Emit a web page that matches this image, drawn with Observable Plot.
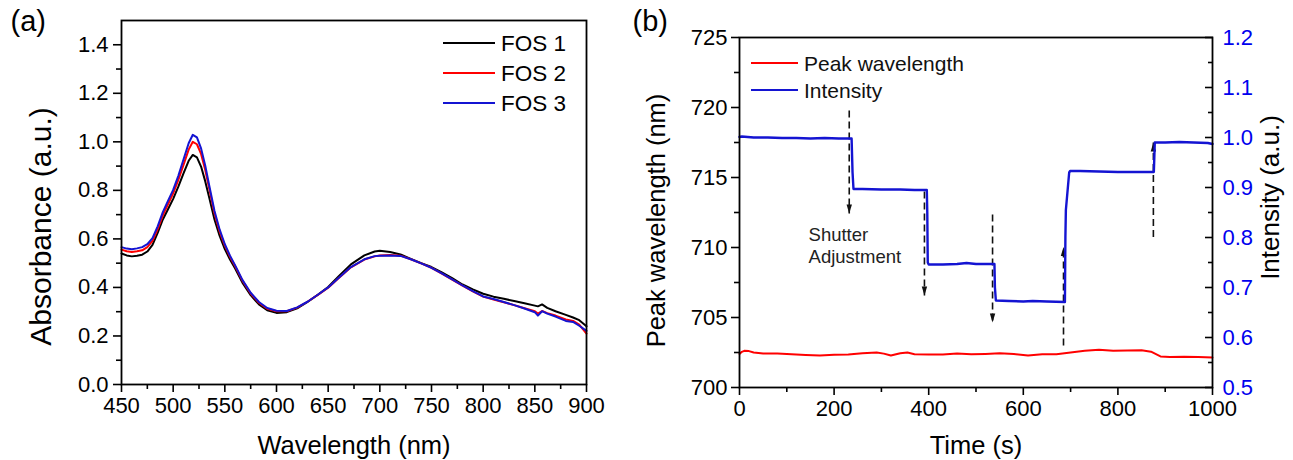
<!DOCTYPE html>
<html><head><meta charset="utf-8">
<script src="https://cdn.jsdelivr.net/npm/d3@7"></script>
<script src="https://cdn.jsdelivr.net/npm/@observablehq/plot@0.6"></script>
<style>
body{margin:0;background:#fff;}
#wrap{display:flex;width:1293px;height:460px;overflow:hidden;}
#wrap svg{font-family:"Liberation Sans",Arial,sans-serif;}
</style></head><body><div id="wrap"></div>
<script>
// ---------- Panel (a) data ----------
const wavelengthNm = [450,455,460,465,470,475,480,485,490,495,500,505,510,515,519,523,527,531,535,540,545,550,555,560,567,575,583,591,600,610,620,630,640,650,660,672,685,695,700,710,720,730,740,750,760,770,780,790,800,810,820,830,840,850,853,857,862,870,880,887,893,900];
const fos1Abs = [.540,.532,.528,.531,.535,.548,.575,.625,.680,.722,.765,.815,.870,.922,.946,.936,.898,.838,.768,.680,.612,.558,.515,.478,.420,.368,.330,.306,.295,.298,.314,.340,.370,.402,.445,.495,.532,.548,.551,.546,.536,.518,.500,.484,.462,.438,.412,.392,.374,.362,.353,.344,.335,.325,.322,.330,.316,.302,.287,.276,.265,.240];
const fos2Abs = [.556,.549,.546,.549,.553,.566,.592,.640,.697,.742,.788,.843,.905,.968,1.000,.990,.950,.885,.805,.705,.630,.572,.526,.487,.428,.375,.337,.312,.302,.302,.317,.341,.369,.399,.438,.483,.515,.528,.532,.534,.531,.516,.499,.481,.457,.432,.407,.384,.362,.350,.339,.327,.314,.302,.292,.303,.294,.284,.268,.262,.247,.210];
const fos3Abs = [.566,.560,.557,.561,.566,.578,.603,.652,.710,.757,.802,.860,.927,.994,1.029,1.018,.973,.903,.818,.715,.638,.578,.531,.491,.431,.378,.340,.315,.304,.303,.318,.341,.370,.400,.439,.484,.516,.529,.531,.532,.530,.516,.499,.481,.458,.433,.408,.385,.363,.352,.340,.327,.313,.298,.284,.302,.292,.280,.262,.258,.242,.221];
const seriesNames = ["FOS 1","FOS 2","FOS 3"];
const seriesColors = ["#000000","#ff0000","#1414d2"];
const absXTicks = [450,500,550,600,650,700,750,800,850,900];
const absXMinor = [475,525,575,625,675,725,775,825,875];
const absYTicks = [0,0.2,0.4,0.6,0.8,1.0,1.2,1.4];
const absYMinor = [0.1,0.3,0.5,0.7,0.9,1.1,1.3];

// ---------- Panel (b) data ----------
const peakTimeS = [0,5,10,20,30,50,80,110,140,170,200,230,260,290,305,320,340,355,370,400,430,460,490,520,550,580,610,640,670,700,730,760,790,820,850,870,890,910,940,970,1000];
const peakWavelengthNm = [702.40,702.55,702.62,702.60,702.50,702.43,702.42,702.38,702.33,702.29,702.34,702.36,702.45,702.50,702.42,702.29,702.44,702.50,702.38,702.35,702.36,702.42,702.38,702.40,702.44,702.40,702.28,702.37,702.38,702.50,702.62,702.70,702.62,702.64,702.66,702.56,702.22,702.18,702.20,702.17,702.15];
const intTimeS = [0,5,30,60,90,120,150,180,210,237,239,241,260,300,340,370,396,397,398,400,430,460,480,500,539,540,542,570,600,620,650,688,689,690,697,699,720,760,800,840,876,877,878,900,930,960,990,1000];
const intensityAU = [1.001,1.002,1.000,1.000,0.999,0.999,0.998,0.999,0.998,0.998,0.93,0.897,0.897,0.896,0.896,0.895,0.895,0.85,0.75,0.746,0.746,0.747,0.749,0.747,0.747,0.70,0.674,0.673,0.672,0.673,0.672,0.671,0.80,0.855,0.930,0.933,0.933,0.932,0.931,0.931,0.931,0.96,0.990,0.990,0.991,0.990,0.989,0.987];
const shutterTimeS = [232,391,535,685,875];
const shutterFromAU = [1.054,0.892,0.846,0.584,0.801];
const shutterToAU = [0.848,0.684,0.630,0.781,0.990];
const shutterDirection = ["down","down","down","up","up"];
const noteText = ["Shutter\nAdjustment"];
const noteTimeS = [146];
const noteWavelengthNm = [711.57];
const timeTicks = [0,200,400,600,800,1000];
const timeMinor = [100,300,500,700,900];
const wlTicks = [700,705,710,715,720,725];
const wlMinor = [702.5,707.5,712.5,717.5,722.5];
const intTicks = [0.5,0.6,0.7,0.8,0.9,1.0,1.1,1.2];
const intMinor = [0.55,0.65,0.75,0.85,0.95,1.05,1.15];

// intensity (right axis) -> left-axis units
const intDomain = [0.5, 1.2], wlDomain = [700, 725];
const toWl = I => wlDomain[0] + (I - intDomain[0]) * (wlDomain[1]-wlDomain[0]) / (intDomain[1]-intDomain[0]);
const toInt = w => intDomain[0] + (w - wlDomain[0]) * (intDomain[1]-intDomain[0]) / (wlDomain[1]-wlDomain[0]);

const FONT = '"Liberation Sans",Arial,sans-serif';
const wrap = document.getElementById("wrap");

// ---------- Panel (a) ----------
const spectra = seriesNames.flatMap((s, k) => wavelengthNm.map((w, i) => ({w, a: [fos1Abs, fos2Abs, fos3Abs][k][i], s})));
const pa = Plot.plot({
  width: 630, height: 460,
  marginLeft: 121, marginRight: 44, marginTop: 20, marginBottom: 76,
  style: {fontFamily: FONT, background: "white", color: "#000", overflow: "visible"},
  x: {domain: [450, 900]},
  y: {domain: [0, 1.5]},
  color: {domain: seriesNames, range: seriesColors},
  marks: [
    Plot.line(spectra, {x: "w", y: "a", z: "s", stroke: "s", strokeWidth: 2}),
    Plot.frame({stroke: "#000", strokeWidth: 1.8}),
    Plot.axisX({ticks: absXTicks, tickSize: 8, tickPadding: 5, fontSize: 22, strokeWidth: 1.6, label: null, tickFormat: d3.format("d")}),
    Plot.axisX({ticks: absXMinor, tickSize: 5, tickFormat: () => "", strokeWidth: 1.6, label: null}),
    Plot.axisY({ticks: absYTicks, tickSize: 8, tickPadding: 5, fontSize: 22, strokeWidth: 1.6, label: null, tickFormat: d3.format(".1f")}),
    Plot.axisY({ticks: absYMinor, tickSize: 5, tickFormat: () => "", strokeWidth: 1.6, label: null}),
    Plot.text(["Wavelength (nm)"], {frameAnchor: "bottom", lineAnchor: "top", dy: 51, fontSize: 25.5, fill: "#000"}),
    Plot.text(["Absorbance (a.u.)"], {frameAnchor: "left", textAnchor: "middle", lineAnchor: "middle", rotate: -90, dx: -80, dy: 24, fontSize: 30, fill: "#000"}),
    Plot.text(["(a)"], {frameAnchor: "top-left", textAnchor: "start", lineAnchor: "top", dx: -111, dy: -10, fontSize: 29, fill: "#000"})
  ]
});
wrap.appendChild(pa);
{
  const g = d3.select(pa).append("g").attr("font-family", FONT).attr("font-size", 22.5).attr("text-anchor", "start");
  seriesNames.forEach((s, i) => {
    const y = 43 + 30 * i;
    g.append("line").attr("x1", 443).attr("x2", 495).attr("y1", y).attr("y2", y).attr("stroke", seriesColors[i]).attr("stroke-width", 2);
    g.append("text").attr("x", 501).attr("y", y + 8).attr("fill", "#000").text(s);
  });
}

// ---------- Panel (b) ----------
const peakRows = peakTimeS.map((t, i) => ({t, v: peakWavelengthNm[i]}));
const intRows = intTimeS.map((t, i) => ({t, v: toWl(intensityAU[i])}));
const arrows = shutterTimeS.map((t, i) => ({t, y1: toWl(shutterFromAU[i]), y2: toWl(shutterToAU[i]), dir: shutterDirection[i]}));
const arrowDown = {draw(ctx) { ctx.moveTo(0, 0); ctx.lineTo(-2.7, -9); ctx.lineTo(2.7, -9); ctx.closePath(); }};
const arrowUp = {draw(ctx) { ctx.moveTo(0, 0); ctx.lineTo(-2.7, 9); ctx.lineTo(2.7, 9); ctx.closePath(); }};
const notes = noteText.map((text, i) => ({text, t: noteTimeS[i], v: noteWavelengthNm[i]}));

const pb = Plot.plot({
  width: 663, height: 460,
  marginLeft: 109, marginRight: 81, marginTop: 37, marginBottom: 73,
  style: {fontFamily: FONT, background: "white", color: "#000", overflow: "visible"},
  x: {domain: [0, 1000]},
  y: {domain: wlDomain},
  marks: [
    Plot.link(arrows, {x1: "t", x2: "t", y1: "y1", y2: "y2", stroke: "#111", strokeWidth: 1.6, strokeDasharray: "7,4"}),
    Plot.dot(arrows.filter(d => d.dir === "down"), {x: "t", y: "y2", symbol: arrowDown, fill: "#111", stroke: "none"}),
    Plot.dot(arrows.filter(d => d.dir === "up"), {x: "t", y: "y2", symbol: arrowUp, fill: "#111", stroke: "none"}),
    Plot.line(peakRows, {x: "t", y: "v", stroke: "#ff0000", strokeWidth: 2}),
    Plot.line(intRows, {x: "t", y: "v", stroke: "#1414d2", strokeWidth: 2.4}),
    Plot.text(notes, {x: "t", y: "v", text: "text", textAnchor: "start", lineAnchor: "top", lineHeight: 1.2, fontSize: 18.5, fill: "#222"}),
    Plot.frame({stroke: "#000", strokeWidth: 1.8}),
    Plot.axisX({ticks: timeTicks, tickSize: 8, tickPadding: 5, fontSize: 22, strokeWidth: 1.6, label: null, tickFormat: d3.format("d")}),
    Plot.axisX({ticks: timeMinor, tickSize: 5, tickFormat: () => "", strokeWidth: 1.6, label: null}),
    Plot.axisY({ticks: wlTicks, tickSize: 8, tickPadding: 4, fontSize: 22, strokeWidth: 1.6, label: null, tickFormat: d3.format("d")}),
    Plot.axisY({ticks: wlMinor, tickSize: 5, tickFormat: () => "", strokeWidth: 1.6, label: null}),
    Plot.axisY({anchor: "right", ticks: intTicks.map(toWl), tickSize: 8, dx: -8, tickFormat: () => "", strokeWidth: 1.6, label: null}),
    Plot.axisY({anchor: "right", ticks: intMinor.map(toWl), tickSize: 5, dx: -5, tickFormat: () => "", strokeWidth: 1.6, label: null}),
    Plot.axisY({anchor: "right", ticks: intTicks.map(toWl), tickSize: 0, tickPadding: 10, fontSize: 22, fill: "#0000ee", label: null, tickFormat: w => toInt(w).toFixed(1)}),
    Plot.text(["Time (s)"], {frameAnchor: "bottom", lineAnchor: "top", dy: 48, fontSize: 25.5, fill: "#000"}),
    Plot.text(["Peak wavelength (nm)"], {frameAnchor: "left", textAnchor: "middle", lineAnchor: "middle", rotate: -90, dx: -83, dy: 8, fontSize: 25.5, fill: "#000"}),
    Plot.text(["Intensity (a.u.)"], {frameAnchor: "right", textAnchor: "middle", lineAnchor: "middle", rotate: -90, dx: 58, dy: -15, fontSize: 26, fill: "#000"}),
    Plot.text(["(b)"], {frameAnchor: "top-left", textAnchor: "start", lineAnchor: "top", dx: -107, dy: -27, fontSize: 29, fill: "#000"})
  ]
});
wrap.appendChild(pb);
{
  const names = ["Peak wavelength", "Intensity"], cols = ["#ff0000", "#1414d2"], ys = [63, 90];
  const g = d3.select(pb).append("g").attr("font-family", FONT).attr("font-size", 21).attr("text-anchor", "start");
  names.forEach((s, i) => {
    g.append("line").attr("x1", 121).attr("x2", 168).attr("y1", ys[i]).attr("y2", ys[i]).attr("stroke", cols[i]).attr("stroke-width", 2.2);
    g.append("text").attr("x", 174).attr("y", ys[i] + 7.5).attr("fill", "#111").text(s);
  });
}
</script></body></html>
